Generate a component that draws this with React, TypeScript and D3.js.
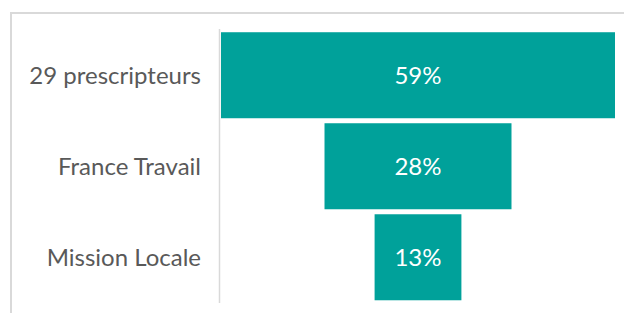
import { useRef, useEffect } from 'react'
import { select, scaleLinear, scaleBand } from 'd3'

const categories = ['29 prescripteurs', 'France Travail', 'Mission Locale']
const values = [59, 28, 13]
const valueLabels = ['59%', '28%', '13%']

const App = () => {
  const svgRef = useRef<SVGSVGElement>(null)

  useEffect(() => {
    const svg = select(svgRef.current)
    svg.selectAll('*').remove()

    const width = 624
    const height = 313
    const axisX = 219.5
    const plotLeft = 221
    const plotRight = 615
    const center = (plotLeft + plotRight) / 2

    // frame, clipped at right and bottom like the reference
    svg
      .append('rect')
      .attr('x', 11)
      .attr('y', 13)
      .attr('width', width)
      .attr('height', height)
      .attr('fill', 'none')
      .attr('stroke', '#d9d9d9')
      .attr('stroke-width', 2)

    const xScale = scaleLinear()
      .domain([0, Math.max(...values)])
      .range([0, plotRight - plotLeft])

    const yScale = scaleBand<string>()
      .domain(categories)
      .range([29.5, 303])
      .paddingInner(0.055)
      .paddingOuter(0.03)

    svg
      .append('line')
      .attr('x1', axisX)
      .attr('x2', axisX)
      .attr('y1', 29)
      .attr('y2', 303)
      .attr('stroke', '#d9d9d9')
      .attr('stroke-width', 1.5)

    const rows = svg
      .selectAll('g.row')
      .data(categories)
      .join('g')
      .attr('class', 'row')

    rows
      .append('rect')
      .attr('x', (d, i) => center - xScale(values[i]) / 2)
      .attr('y', (d) => yScale(d)!)
      .attr('width', (d, i) => xScale(values[i]))
      .attr('height', yScale.bandwidth())
      .attr('fill', '#00a19a')

    rows
      .append('text')
      .text((d, i) => valueLabels[i])
      .attr('x', center)
      .attr('y', (d) => yScale(d)! + yScale.bandwidth() / 2)
      .attr('dy', '0.35em')
      .attr('text-anchor', 'middle')
      .attr('fill', '#ffffff')
      .attr('font-size', 24)

    rows
      .append('text')
      .text((d) => d)
      .attr('x', 201)
      .attr('y', (d) => yScale(d)! + yScale.bandwidth() / 2)
      .attr('dy', '0.35em')
      .attr('text-anchor', 'end')
      .attr('fill', '#595959')
      .attr('font-size', 24)
  }, [])

  return (
    <svg
      ref={svgRef}
      width={624}
      height={313}
      style={{ position: 'absolute', left: 0, top: 0, fontFamily: 'Lato, sans-serif' }}
    ></svg>
  )
}

export default App
